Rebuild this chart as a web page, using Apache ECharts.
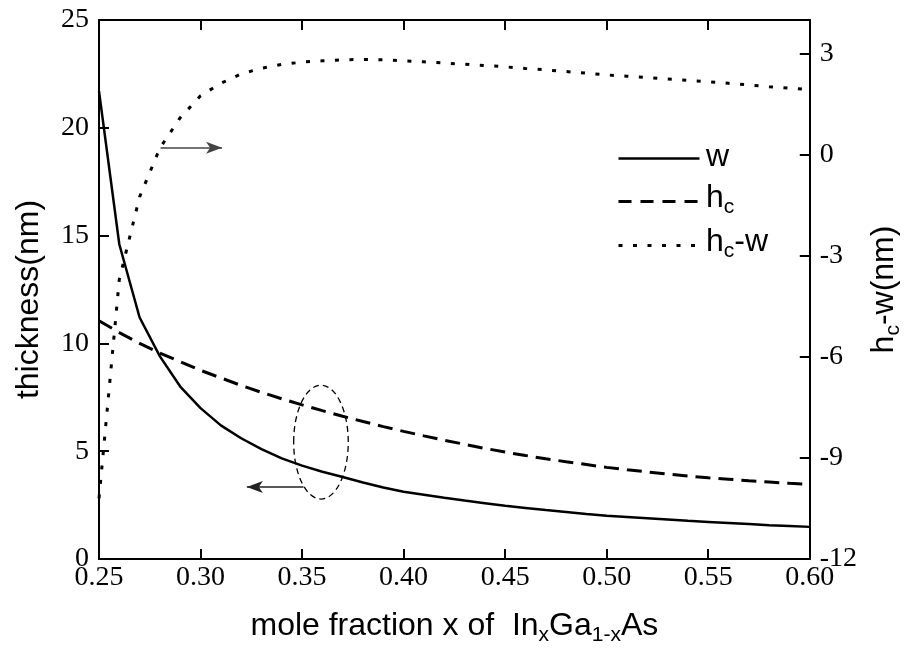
<!DOCTYPE html>
<html>
<head>
<meta charset="utf-8">
<script src="https://cdn.jsdelivr.net/npm/echarts@6/dist/echarts.min.js"></script>
<style>html,body{margin:0;padding:0;background:#fff}#c{width:912px;height:654px}</style>
</head>
<body>
<div id="c"></div>
<script>
const xValues = [0.25,0.26,0.27,0.28,0.29,0.30,0.31,0.32,0.33,0.34,0.35,0.36,0.37,0.38,0.39,0.40,0.41,0.42,0.43,0.44,0.45,0.46,0.47,0.48,0.49,0.50,0.51,0.52,0.53,0.54,0.55,0.56,0.57,0.58,0.59,0.60];
const wValues = [21.7,14.6,11.2,9.4,8.0,7.0,6.2,5.6,5.1,4.67,4.33,4.05,3.8,3.55,3.32,3.12,2.98,2.84,2.71,2.59,2.47,2.37,2.27,2.18,2.09,2.01,1.95,1.89,1.83,1.77,1.72,1.67,1.62,1.57,1.53,1.49];
const hcValues = [11.05,10.5,10.0,9.55,9.15,8.75,8.4,8.05,7.73,7.43,7.15,6.88,6.62,6.38,6.14,5.92,5.71,5.51,5.32,5.13,4.96,4.8,4.65,4.51,4.38,4.25,4.14,4.04,3.94,3.85,3.77,3.7,3.63,3.57,3.51,3.46];
const hcwValues = [-10.2,-3.7,-1.25,0.2,1.1,1.75,2.12,2.4,2.57,2.68,2.75,2.79,2.82,2.83,2.82,2.79,2.76,2.72,2.69,2.65,2.61,2.56,2.52,2.47,2.42,2.37,2.33,2.29,2.25,2.21,2.17,2.12,2.07,2.02,1.98,1.93];
const xTicks = {min:0.25, max:0.60, interval:0.05};
const leftTicks = {min:0, max:25, interval:5};
const rightTicks = {min:-12, max:4, interval:3};
// annotation anchors (data coordinates)
const arrowRight = [[0.2803, 0.21],[0.3106, 0.21]];   // right axis
const arrowLeft = [[0.3507, 3.34],[0.3228, 3.34]];    // left axis
const ellipseC = [0.3593, 5.42];
const ellipseR = [0.01344, 2.64];

const SANS = '"Liberation Sans", Arial, sans-serif';
const SERIF = '"Liberation Serif", "Times New Roman", serif';
const subStyle = {fontSize: 21, fontFamily: SANS, color: '#000', padding: [19,0,0,0]};

const pair = (ys) => xValues.map((x,i)=>[x, ys[i]]);
const chart = echarts.init(document.getElementById('c'));
const axisLine = {show:true, onZero:false, lineStyle:{color:'#000', width:2}};
const tick = {show:true, inside:true, length:10, lineStyle:{color:'#000', width:2}};

chart.setOption({
  animation:false,
  backgroundColor:'#fff',
  grid:{left:99, right:97, top:20, bottom:95},
  xAxis:[{
    type:'value', position:'bottom', min:xTicks.min, max:xTicks.max, interval:xTicks.interval,
    axisLine, axisTick:tick, splitLine:{show:false},
    axisLabel:{color:'#000', fontFamily:SERIF, fontSize:28, margin:5, formatter:v=>v.toFixed(2)},
    name:'mole fraction x of  In{s|x}Ga{s|1-x}As', nameLocation:'middle', nameGap:47,
    nameTextStyle:{color:'#000', fontFamily:SANS, fontSize:32, rich:{s:subStyle}}
  },{
    type:'value', position:'top', min:xTicks.min, max:xTicks.max, interval:xTicks.interval,
    axisLine, axisTick:tick, axisLabel:{show:false}, splitLine:{show:false}
  }],
  yAxis:[{
    type:'value', position:'left', min:leftTicks.min, max:leftTicks.max, interval:leftTicks.interval,
    axisLine, axisTick:tick, splitLine:{show:false},
    axisLabel:{color:'#000', fontFamily:SERIF, fontSize:28, margin:10},
    name:'thickness(nm)', nameLocation:'middle', nameGap:54,
    nameTextStyle:{color:'#000', fontFamily:SANS, fontSize:32, padding:[0,20,0,0]}
  },{
    type:'value', position:'right', min:rightTicks.min, max:rightTicks.max, interval:rightTicks.interval,
    axisLine, axisTick:tick, splitLine:{show:false},
    axisLabel:{color:'#000', fontFamily:SERIF, fontSize:28, margin:10, showMaxLabel:false},
    name:'h{s|c}-w(nm)', nameLocation:'middle', nameGap:50,
    nameTextStyle:{color:'#000', fontFamily:SANS, fontSize:32, rich:{s:subStyle}}
  }],
  series:[{
    name:'w', type:'line', xAxisIndex:0, yAxisIndex:0, data:pair(wValues), showSymbol:false, symbol:'none',
    lineStyle:{color:'#000', width:2.5, type:'solid'},
    markLine:{silent:true, symbol:['none','arrow'], symbolSize:[9,16], label:{show:false},
      lineStyle:{color:'#222', width:1.5, type:'solid'},
      data:[[{coord:arrowLeft[0]},{coord:arrowLeft[1]}]]}
  },{
    name:'hc', type:'line', xAxisIndex:0, yAxisIndex:0, data:pair(hcValues), showSymbol:false, symbol:'none',
    lineStyle:{color:'#000', width:3, type:[15,8]}
  },{
    name:'hc-w', type:'line', xAxisIndex:0, yAxisIndex:1, data:pair(hcwValues), showSymbol:false, symbol:'none',
    lineStyle:{color:'#000', width:3, type:[4,10.5]},
    markLine:{silent:true, symbol:['none','arrow'], symbolSize:[9,16], label:{show:false},
      lineStyle:{color:'#444', width:1.5, type:'solid'},
      data:[[{coord:arrowRight[0]},{coord:arrowRight[1]}]]}
  }]
});

const c0 = chart.convertToPixel({xAxisIndex:0, yAxisIndex:0}, ellipseC);
const c1 = chart.convertToPixel({xAxisIndex:0, yAxisIndex:0}, [ellipseC[0]+ellipseR[0], ellipseC[1]+ellipseR[1]]);
const legendText = {fontFamily:SANS, fontSize:32, fill:'#000'};
const legendSub = {s:{fontSize:21, fontFamily:SANS, fill:'#000', padding:[19,0,0,0]}};
chart.setOption({
  graphic:[
    {type:'ellipse', silent:true, shape:{cx:c0[0], cy:c0[1], rx:Math.abs(c1[0]-c0[0]), ry:Math.abs(c1[1]-c0[1])},
     style:{fill:'none', stroke:'#000', lineWidth:1.3, lineDash:[6,4]}},
    {type:'line', left:616, top:156, silent:true, shape:{x1:0,y1:0,x2:81,y2:0}, style:{stroke:'#000', lineWidth:2.5}},
    {type:'line', left:616, top:199, silent:true, shape:{x1:0,y1:0,x2:81,y2:0}, style:{stroke:'#000', lineWidth:3, lineDash:[13,9]}},
    {type:'line', left:616, top:243, silent:true, shape:{x1:0,y1:0,x2:81,y2:0}, style:{stroke:'#000', lineWidth:3, lineDash:[4,10.5]}},
    {type:'text', left:706, top:141, silent:true, style:Object.assign({text:'w'}, legendText)},
    {type:'text', left:706, top:182, silent:true, style:Object.assign({text:'h{s|c}', rich:legendSub}, legendText)},
    {type:'text', left:706, top:226, silent:true, style:Object.assign({text:'h{s|c}-w', rich:legendSub}, legendText)}
  ]
});
</script>
</body>
</html>
